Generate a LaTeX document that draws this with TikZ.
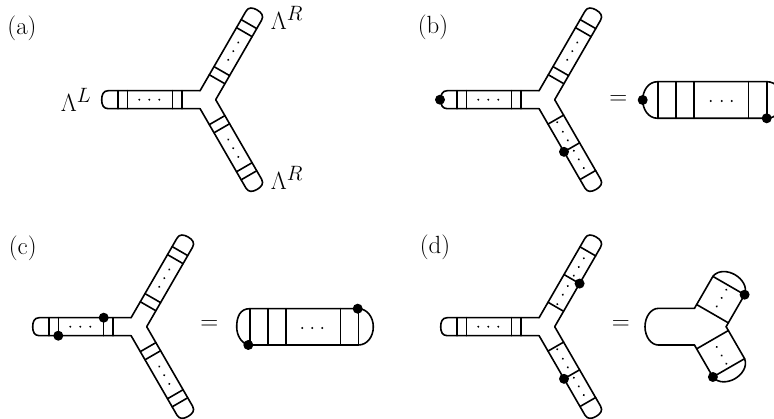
\documentclass[tikz,border=0pt]{standalone}
\tikzset{
  wire/.style={line width=1.6pt,line cap=round,line join=round},
  blob/.style={circle,fill=black,inner sep=0pt,minimum size=10pt},
  lab/.style={font=\Huge,inner sep=0pt}
}
% one leg of the junction, pointing along +x
\newcommand{\legline}{
  \draw[wire] (5.2,9) -- (97,9) .. controls (102,9) and (103.6,5) .. (103.6,0)
    .. controls (103.6,-5) and (102,-9) .. (97,-9) -- (5.2,-9);
}
\newcommand{\plainleg}{
  \legline
  \foreach \r in {23.6,33,78,87.3} \draw[wire] (\r,9) -- (\r,-9);
  \foreach \r in {46,56,66} \fill (\r,0) circle (1.1);
}
\newcommand{\splitleg}{
  \legline
  \foreach \r in {23,55,87} \draw[wire] (\r,9) -- (\r,-9);
  \foreach \r in {26,37,47,59,69,79} \fill (\r,0) circle (1.1);
}
\newcommand{\bigleg}{
  \draw[wire] (10.55,18.3) -- (47.5,18.3) .. controls (56,17) and (60,8) .. (60,0)
    .. controls (60,-8) and (56,-17) .. (47.5,-18.3) -- (10.55,-18.3);
  \foreach \r in {15,47.5} \draw[wire] (\r,18.3) -- (\r,-18.3);
  \foreach \r in {23.4,33.3,42.7} \fill (\r,0) circle (1.1);
}
\begin{document}
\begin{tikzpicture}[x=1pt,y=1pt]
\useasboundingbox (0,0) rectangle (774,419);
\node[lab] (laba) at (22,391) {(a)};
\node[lab] (labb) at (433,392) {(b)};
\node[lab] (labc) at (22.7,171) {(c)};
\node[lab] (labd) at (435,172) {(d)};
% panel a
\foreach \a in {180,60,-60}{
  \begin{scope}[shift={(205.3,319.3)},rotate=\a] \plainleg \end{scope}
}
\node[lab] (lamL) at (76,319) {$\Lambda^L$};
\node[lab] (lamRa) at (287,401) {$\Lambda^R$};
\node[lab] (lamRb) at (287,241) {$\Lambda^R$};
% panel b
\foreach \a in {180,60}{
  \begin{scope}[shift={(544.3,319.3)},rotate=\a] \plainleg \end{scope}
}
\begin{scope}[shift={(544.3,319.3)},rotate=-60]
  \splitleg
  \node[blob] (bb) at (55,-9) {};
\end{scope}
\node[blob] (ba) at (440,319.3) {};
\node[lab] (eqb) at (618.3,319) {$=$};
\draw[wire] (657.7,337.3) -- (766.7,337.3) .. controls (776,337.3) and (781.7,330) .. (781.7,319)
  .. controls (781.7,308) and (776,300.7) .. (766.7,300.7) -- (657.7,300.7)
  .. controls (648,300.7) and (642.7,310) .. (642.7,319) .. controls (642.7,328) and (648,337.3) .. cycle;
\foreach \x in {675.7,694,748.3,766.7} \draw[wire] (\x,337.3) -- (\x,300.7);
\draw[wire] (657.7,337.3) -- (657.7,300.7);
\foreach \x in {710.7,721.7,731.7} \fill (\x,318) circle (1.1);
\node[blob] (bc) at (642.7,319) {};
\node[blob] (bd) at (766.7,300.7) {};
% panel c
\foreach \a in {180,60,-60}{
  \begin{scope}[shift={(136.3,92.3)},rotate=\a] \plainleg \end{scope}
}
\node[blob] (ca) at (103.7,101.3) {};
\node[blob] (cb) at (58.3,83.3) {};
\node[lab] (eqc) at (209.3,93.7) {$=$};
\draw[wire] (249.7,110.3) -- (358.3,110.3) .. controls (367,110.3) and (373.3,102) .. (373.3,92.2)
  .. controls (373.3,82) and (367,74) .. (358.3,74) -- (248.3,74)
  .. controls (241,76) and (236.7,84) .. (236.7,92.2) .. controls (236.7,102) and (240,110.3) .. cycle;
\foreach \x in {268,286,340.3,358.3} \draw[wire] (\x,110.3) -- (\x,74);
\draw[wire] (249.7,110.3) -- (249.7,74);
\foreach \x in {302.3,312.3,322.3} \fill (\x,91) circle (1.1);
\node[blob] (cc) at (248.3,74) {};
\node[blob] (cd) at (357.7,110.3) {};
% panel d
\begin{scope}[shift={(544.3,92.3)},rotate=180] \plainleg \end{scope}
\foreach \a/\n in {60/da,-60/db}{
  \begin{scope}[shift={(544.3,92.3)},rotate=\a]
    \splitleg
    \node[blob] (\n) at (55,-9) {};
  \end{scope}
}
\node[lab] (eqd) at (620.7,94) {$=$};
\begin{scope}[shift={(705,92.3)},rotate=180]
  \draw[wire] (10.55,18.3) -- (46.7,18.3) .. controls (54,18.3) and (60,10) .. (60,0)
    .. controls (60,-10) and (54,-18.3) .. (46.7,-18.3) -- (10.55,-18.3);
\end{scope}
\foreach \a/\n in {60/dc,-60/dd}{
  \begin{scope}[shift={(705,92.3)},rotate=\a]
    \bigleg
    \node[blob] (\n) at (47.5,-18.3) {};
  \end{scope}
}
\end{tikzpicture}
\end{document}
